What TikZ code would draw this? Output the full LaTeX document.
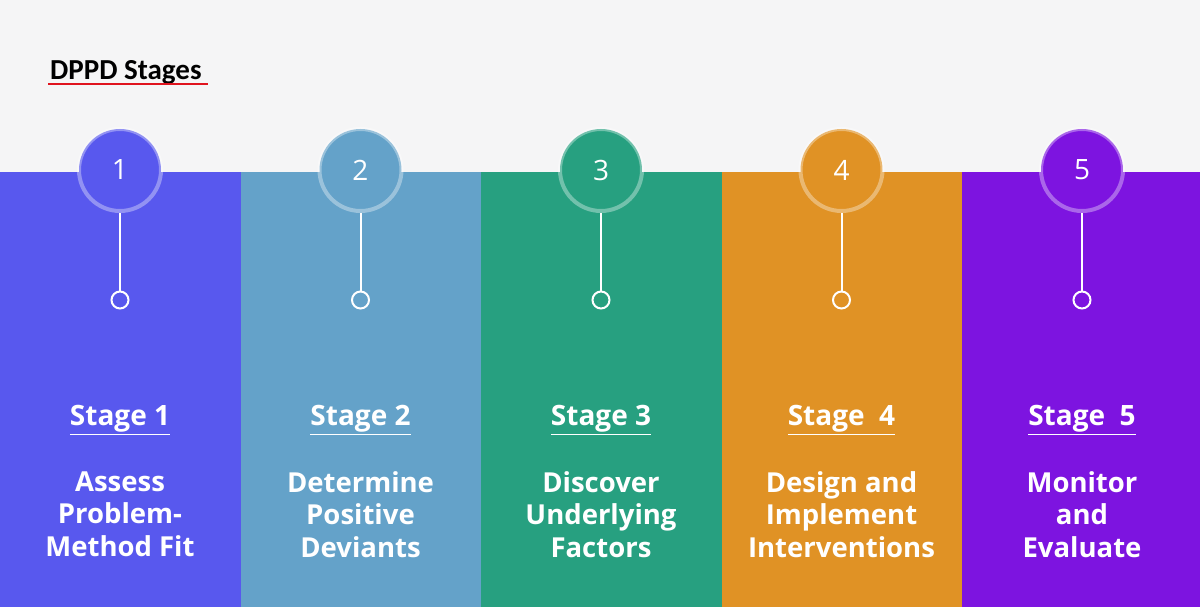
\documentclass[tikz,border=0pt]{standalone}
\usepackage{fontspec}
\setmainfont{Open Sans}
\newfontfamily\titlefont{Carlito}
\usetikzlibrary{positioning}
\definecolor{bgpage}{HTML}{F5F5F6}
\definecolor{stageA}{HTML}{5858EE}
\definecolor{stageB}{HTML}{64A2C9}
\definecolor{stageC}{HTML}{27A080}
\definecolor{stageD}{HTML}{E09225}
\definecolor{stageE}{HTML}{7D14E0}
\definecolor{titlered}{HTML}{E0141E}

\begin{document}
\begin{tikzpicture}[
    x=1pt, y=-1pt,
    every node/.style={align=center},
    band/.style={fill=#1, draw=none},
    badge/.style={circle, fill=#1, draw=white, draw opacity=0.35, line width=4pt, minimum size=82pt, inner sep=0pt, text=white, font=\fontsize{28}{28}\selectfont},
    pin/.style={circle, draw=white, line width=2pt, minimum size=17pt, inner sep=0pt},
    stem/.style={draw=white, line width=2pt},
    stagehead/.style={text=white, font=\bfseries\fontsize{28}{32}\selectfont},
    stagetext/.style={text=white, font=\bfseries\fontsize{27.5}{32.5}\selectfont}
]

% Background
\fill[bgpage] (0,0) rectangle (1200,607);
\useasboundingbox (0,0) rectangle (1200,607);

% Title
\node[anchor=base west, inner sep=0pt, font=\titlefont\bfseries\fontsize{29}{29}\selectfont] (title) at (50,80) {DPPD Stages};
\draw[titlered, line width=2.5pt] (48,84) -- (208,84);

% Columns
\foreach \i/\col/\head/\desc in {
    1/stageA/Stage 1/{Assess\\Problem-\\Method Fit},
    2/stageB/Stage 2/{Determine\\Positive\\Deviants},
    3/stageC/Stage 3/{Discover\\Underlying\\Factors},
    4/stageD/Stage\ \ 4/{Design and\\Implement\\Interventions},
    5/stageE/Stage\ \ 5/{Monitor\\and\\Evaluate}} {
  \pgfmathsetmacro{\cx}{240.5*(\i-1)+120}
  \fill[band=\col] ({240.5*(\i-1)},172) rectangle ({240.5*\i},607);
  \node[badge=\col] (badge\i) at (\cx,170) {\i};
  \node[pin] (pin\i) at (\cx,300) {};
  \draw[stem] (badge\i.south) -- (pin\i.north);
  \node[stagehead] (head\i) at (\cx,420) {\underline{\head}};
  \node[stagetext, below=30pt of head\i] (desc\i) {\desc};
}

\end{tikzpicture}
\end{document}
